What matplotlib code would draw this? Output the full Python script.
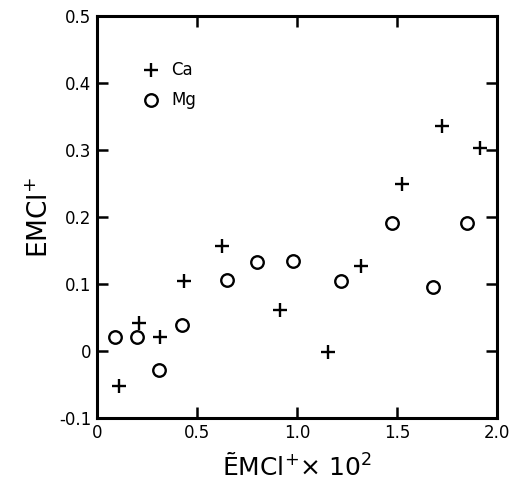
import matplotlib.pyplot as plt

plt.rcParams['font.family'] = ['DejaVu Sans']

# Ca (+) points
ca_x = [0.11, 0.21, 0.315, 0.435, 0.625, 0.915, 1.155, 1.32, 1.525, 1.725, 1.915]
ca_y = [-0.052, 0.042, 0.021, 0.104, 0.157, 0.061, -0.001, 0.127, 0.249, 0.336, 0.303]

# Mg (o) points
mg_x = [0.09, 0.20, 0.31, 0.425, 0.65, 0.80, 0.98, 1.22, 1.475, 1.68, 1.85]
mg_y = [0.021, 0.021, -0.028, 0.039, 0.106, 0.133, 0.134, 0.104, 0.191, 0.096, 0.191]

xticks = [0, 0.5, 1.0, 1.5, 2.0]
xtick_labels = ['0', '0.5', '1.0', '1.5', '2.0']
yticks = [-0.1, 0, 0.1, 0.2, 0.3, 0.4, 0.5]
ytick_labels = ['-0.1', '0', '0.1', '0.2', '0.3', '0.4', '0.5']

fig = plt.figure(figsize=(5.11, 4.96), dpi=100)
ax = fig.add_axes([0.19, 0.157, 0.783, 0.811])

ax.plot(ca_x, ca_y, '+', color='black', markersize=10, markeredgewidth=1.7, linestyle='none')
ax.plot(mg_x, mg_y, 'o', color='black', markerfacecolor='none', markersize=9,
        markeredgewidth=1.7, linestyle='none')

ax.set_xlim(0, 2.0)
ax.set_ylim(-0.1, 0.5)
ax.set_xticks(xticks)
ax.set_xticklabels(xtick_labels)
ax.set_yticks(yticks)
ax.set_yticklabels(ytick_labels)
ax.tick_params(direction='in', length=8, width=1.8, top=True, right=True,
               labelsize=12, pad=4)
for s in ax.spines.values():
    s.set_linewidth(2.2)

# legend drawn by hand
ax.plot([0.27], [0.42], '+', color='black', markersize=10, markeredgewidth=1.7)
ax.text(0.37, 0.42, 'Ca', fontsize=12, va='center', fontweight='medium')
ax.plot([0.27], [0.375], 'o', color='black', markerfacecolor='none', markersize=9,
        markeredgewidth=1.7)
ax.text(0.37, 0.375, 'Mg', fontsize=12, va='center', fontweight='medium')

ax.set_ylabel('EMCl$^{+}$', fontsize=19, labelpad=4)
ax.set_xlabel('\u1EBCMCl$^{+}$\u00d7 10$^{2}$', fontsize=18, labelpad=8)

fig.savefig('out.png', dpi=100)
